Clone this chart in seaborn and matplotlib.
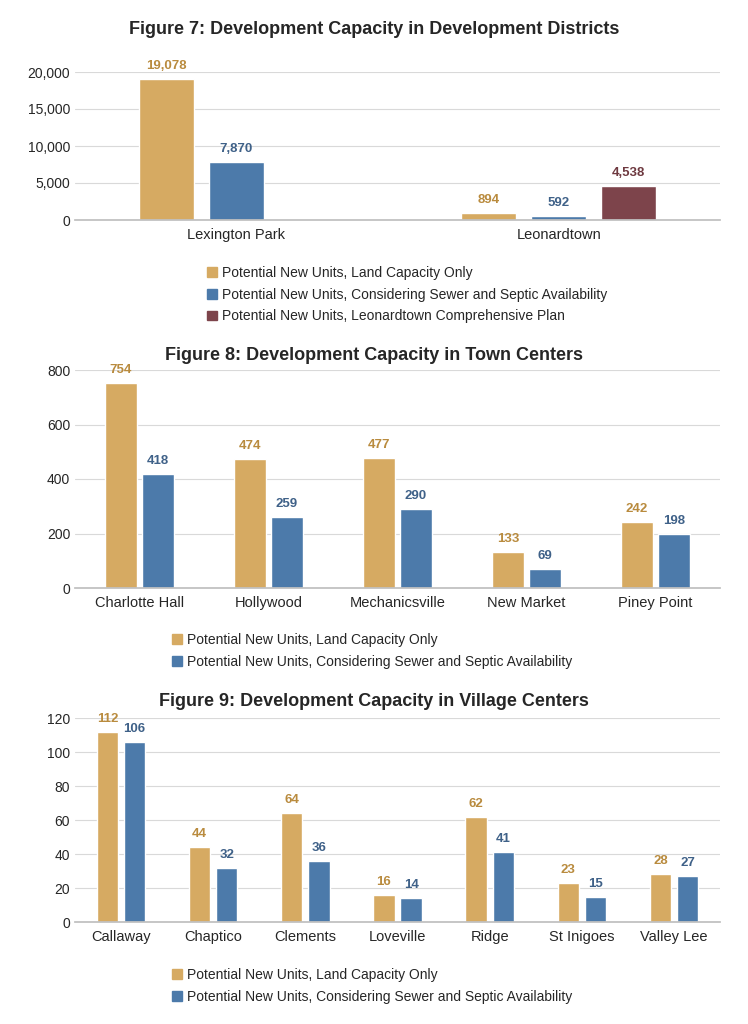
import numpy as np
import pandas as pd
import matplotlib
matplotlib.use("Agg")
import matplotlib.pyplot as plt
import seaborn as sns

sns.set_theme(style="white")
plt.rcParams['font.family'] = ['Liberation Sans', 'DejaVu Sans']

land = "Potential New Units, Land Capacity Only"
sewer = "Potential New Units, Considering Sewer and Septic Availability"
plan = "Potential New Units, Leonardtown Comprehensive Plan"

dist_cats = ["Lexington Park", "Leonardtown"]
dist_land = [19078, 894]
dist_sewer = [7870, 592]
dist_plan = [np.nan, 4538]

town_cats = ["Charlotte Hall", "Hollywood", "Mechanicsville", "New Market", "Piney Point"]
town_land = [754, 474, 477, 133, 242]
town_sewer = [418, 259, 290, 69, 198]

vil_cats = ["Callaway", "Chaptico", "Clements", "Loveville", "Ridge", "St Inigoes", "Valley Lee"]
vil_land = [112, 44, 64, 16, 62, 23, 28]
vil_sewer = [106, 32, 36, 14, 41, 15, 27]

gold, blue, maroon = "#D6AA62", "#4C7AAA", "#7D444B"
text_cols = {land: "#B98B3E", sewer: "#3F6188", plan: "#6E3940"}
pal = {land: gold, sewer: blue, plan: maroon}

fig = plt.figure(figsize=(7.48, 10.24), dpi=100)
W, H = 748, 1024


def make_ax(top, bottom):
    return fig.add_axes([75 / W, 1 - bottom / H, 645 / W, (bottom - top) / H])


def panel(ax, cats, series, ymax, yticks, width, gap, title, title_y, leg_x, leg_y):
    rows = []
    for name, vals in series:
        for c, v in zip(cats, vals):
            # missing bars are drawn with zero height so slots stay aligned
            rows.append({"cat": c, "series": name, "val": 0 if np.isnan(v) else v})
    df = pd.DataFrame(rows)
    names = [n for n, _ in series]
    sns.barplot(data=df, x="cat", y="val", hue="series", hue_order=names,
                palette=pal, width=width, gap=gap, ax=ax, legend=False,
                saturation=1, errorbar=None)
    for cont, (name, vals) in zip(ax.containers, series):
        labels = ["" if np.isnan(v) else f"{int(v):,}" for v in vals]
        ax.bar_label(cont, labels=labels, padding=5, fontsize=9.5,
                     fontweight="bold", color=text_cols[name], clip_on=False)
    ax.set_ylim(0, ymax)
    ax.set_yticks(yticks)
    ax.set_yticklabels([f"{t:,}" for t in yticks], fontsize=10)
    ax.tick_params(axis="x", labelsize=10.5, length=0, pad=6)
    ax.tick_params(axis="y", length=0)
    ax.set_xlabel("")
    ax.set_ylabel("")
    ax.grid(axis="y", color="#D9D9D9", lw=0.8)
    ax.set_axisbelow(True)
    for s in ["top", "right", "left"]:
        ax.spines[s].set_visible(False)
    ax.spines["bottom"].set_color("#BFBFBF")
    fig.text(0.5, 1 - title_y / H, title, ha="center", va="center",
             fontsize=13, fontweight="bold")
    handles = [plt.Rectangle((0, 0), 1, 1, color=pal[n]) for n in names]
    fig.legend(handles, names, loc="upper left",
               bbox_to_anchor=(leg_x / W, 1 - leg_y / H), frameon=False,
               fontsize=10, handlelength=0.7, handleheight=0.7,
               handletextpad=0.4, labelspacing=0.55, borderpad=0)


ax1 = make_ax(72, 220)
panel(ax1, dist_cats, [(land, dist_land), (sewer, dist_sewer), (plan, dist_plan)],
      20000, [0, 5000, 10000, 15000, 20000], 0.65, 0.21,
      "Figure 7: Development Capacity in Development Districts", 30, 200, 259)

ax2 = make_ax(370, 588)
panel(ax2, town_cats, [(land, town_land), (sewer, town_sewer)],
      800, [0, 200, 400, 600, 800], 0.574, 0.11,
      "Figure 8: Development Capacity in Town Centers", 355, 165, 626)

ax3 = make_ax(718, 922)
panel(ax3, vil_cats, [(land, vil_land), (sewer, vil_sewer)],
      120, [0, 20, 40, 60, 80, 100, 120], 0.59, 0.22,
      "Figure 9: Development Capacity in Village Centers", 702, 165, 961)

fig.savefig("out.png", dpi=100)
